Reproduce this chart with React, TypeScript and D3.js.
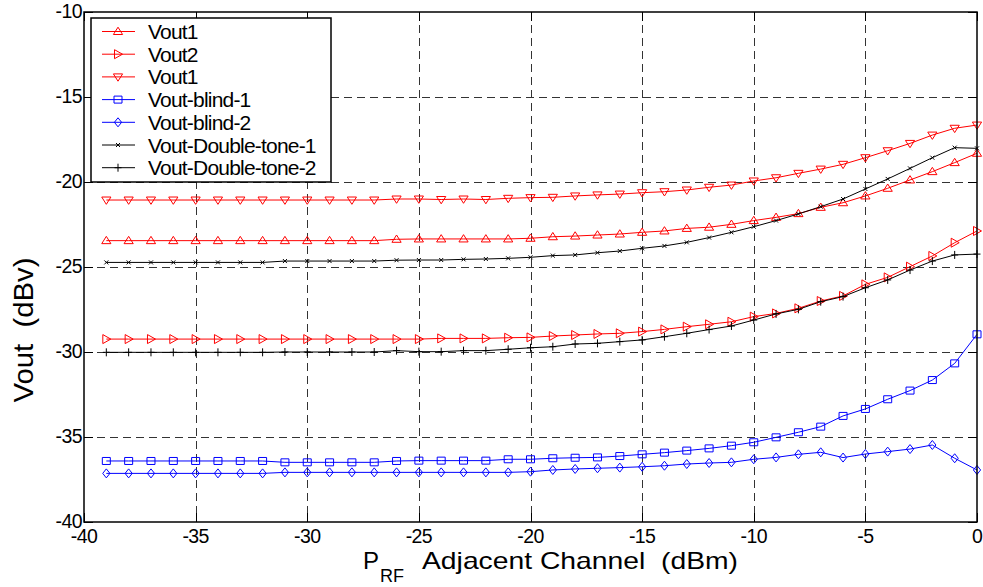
import React from "react";
import * as d3 from "d3";

const xValues = [-39, -38, -37, -36, -35, -34, -33, -32, -31, -30, -29, -28, -27, -26, -25, -24, -23, -22, -21, -20, -19, -18, -17, -16, -15, -14, -13, -12, -11, -10, -9, -8, -7, -6, -5, -4, -3, -2, -1, 0];

const vout1Up = [-23.45, -23.45, -23.45, -23.45, -23.45, -23.45, -23.45, -23.45, -23.45, -23.45, -23.45, -23.45, -23.45, -23.37, -23.35, -23.35, -23.35, -23.35, -23.35, -23.31, -23.22, -23.18, -23.12, -23.06, -22.96, -22.88, -22.73, -22.66, -22.49, -22.27, -22.08, -21.86, -21.49, -21.22, -20.82, -20.37, -19.88, -19.39, -18.86, -18.31];
const vout2 = [-29.24, -29.24, -29.24, -29.24, -29.24, -29.24, -29.24, -29.24, -29.24, -29.24, -29.24, -29.24, -29.24, -29.24, -29.24, -29.2, -29.2, -29.2, -29.16, -29.14, -29.06, -29.0, -28.94, -28.9, -28.8, -28.67, -28.51, -28.37, -28.22, -27.92, -27.73, -27.43, -27.0, -26.7, -26.02, -25.61, -24.98, -24.35, -23.57, -22.88];
const vout1Down = [-21.06, -21.06, -21.06, -21.06, -21.06, -21.06, -21.06, -21.06, -21.06, -21.06, -21.06, -21.06, -21.06, -21.0, -21.0, -21.03, -21.0, -21.03, -20.96, -20.92, -20.9, -20.82, -20.76, -20.71, -20.63, -20.57, -20.47, -20.31, -20.18, -19.94, -19.75, -19.49, -19.24, -18.96, -18.57, -18.16, -17.73, -17.24, -16.84, -16.65];
const blind1 = [-36.41, -36.41, -36.41, -36.41, -36.41, -36.41, -36.41, -36.41, -36.49, -36.49, -36.49, -36.49, -36.49, -36.41, -36.39, -36.39, -36.39, -36.39, -36.31, -36.31, -36.25, -36.22, -36.2, -36.12, -36.02, -35.92, -35.8, -35.67, -35.51, -35.31, -35.02, -34.72, -34.39, -33.76, -33.35, -32.78, -32.27, -31.65, -30.67, -28.96];
const blind2 = [-37.14, -37.14, -37.14, -37.14, -37.14, -37.14, -37.14, -37.14, -37.08, -37.08, -37.08, -37.08, -37.08, -37.08, -37.08, -37.08, -37.08, -37.08, -37.08, -37.04, -36.94, -36.88, -36.84, -36.8, -36.75, -36.69, -36.59, -36.53, -36.49, -36.31, -36.2, -36.02, -35.9, -36.21, -36.0, -35.86, -35.71, -35.47, -36.25, -36.94];
const doubleTone1 = [-24.73, -24.73, -24.73, -24.73, -24.73, -24.73, -24.73, -24.73, -24.65, -24.65, -24.65, -24.65, -24.65, -24.6, -24.59, -24.59, -24.55, -24.53, -24.49, -24.43, -24.33, -24.29, -24.16, -24.06, -23.9, -23.76, -23.55, -23.27, -22.96, -22.63, -22.27, -21.88, -21.45, -21.0, -20.41, -19.82, -19.2, -18.57, -17.98, -18.02];
const doubleTone2 = [-30.02, -30.02, -30.02, -30.02, -30.02, -30.02, -30.02, -30.02, -30.0, -30.0, -30.0, -30.0, -30.0, -29.92, -29.98, -29.98, -29.92, -29.92, -29.84, -29.75, -29.69, -29.53, -29.49, -29.39, -29.29, -29.1, -28.9, -28.68, -28.47, -28.12, -27.76, -27.49, -27.04, -26.74, -26.22, -25.76, -25.18, -24.65, -24.29, -24.24];

const seriesNames = ["Vout1", "Vout2", "Vout1", "Vout-blind-1", "Vout-blind-2", "Vout-Double-tone-1", "Vout-Double-tone-2"];
const seriesValues = [vout1Up, vout2, vout1Down, blind1, blind2, doubleTone1, doubleTone2];
const seriesColors = ["#ff0000", "#ff0000", "#ff0000", "#0000ff", "#0000ff", "#000000", "#000000"];
const seriesMarkers = ["triUp", "triRight", "triDown", "square", "diamond", "x", "plus"];

const xTicks = [-40, -35, -30, -25, -20, -15, -10, -5, 0];
const yTicks = [-10, -15, -20, -25, -30, -35, -40];

const FONT = "'Liberation Sans', Arial, Helvetica, sans-serif";

function markerPath(type: string): string {
  switch (type) {
    case "triUp":
      return "M0,-4.3L4.6,3L-4.6,3Z";
    case "triDown":
      return "M0,4.3L4.6,-3L-4.6,-3Z";
    case "triRight":
      return "M4.5,0L-3.5,-4.5L-3.5,4.5Z";
    case "square":
      return "M-4,-3.5L4,-3.5L4,3.5L-4,3.5Z";
    case "diamond":
      return "M0,-4.5L3.6,0L0,4.5L-3.6,0Z";
    case "x":
      return "M-2,-2L2,2M-2,2L2,-2";
    case "plus":
      return "M-3.5,0L3.5,0M0,-4L0,4";
    default:
      return "";
  }
}

export default function App() {
  const W = 983;
  const H = 587;
  const left = 84;
  const right = 977;
  const top = 12;
  const bottom = 522;

  const x = d3.scaleLinear().domain([-40, 0]).range([left, right]);
  const y = d3.scaleLinear().domain([-40, -10]).range([bottom, top]);

  const line = d3
    .line<number>()
    .x((_, i) => x(xValues[i]))
    .y((d) => y(d));

  const legX = 91;
  const legY = 18;
  const legW = 240;
  const legH = 164;

  return (
    <svg
      width={W}
      height={H}
      style={{ position: "absolute", left: 0, top: 0, background: "#fff" }}
      fontFamily={FONT}
    >
      <rect x={0} y={0} width={W} height={H} fill="#fff" />
      {/* grid */}
      <g stroke="#333" strokeWidth={1} strokeDasharray="8,5">
        {xTicks.slice(1, -1).map((t) => (
          <line key={"gx" + t} x1={Math.round(x(t)) + 0.5} x2={Math.round(x(t)) + 0.5} y1={top} y2={bottom} />
        ))}
        {yTicks.slice(1, -1).map((t) => (
          <line key={"gy" + t} x1={left} x2={right} y1={Math.round(y(t)) + 0.5} y2={Math.round(y(t)) + 0.5} />
        ))}
      </g>
      {/* ticks */}
      <g stroke="#000" strokeWidth={1}>
        {xTicks.map((t) => (
          <g key={"tx" + t}>
            <line x1={Math.round(x(t)) + 0.5} x2={Math.round(x(t)) + 0.5} y1={bottom} y2={bottom - 9} />
            <line x1={Math.round(x(t)) + 0.5} x2={Math.round(x(t)) + 0.5} y1={top} y2={top + 9} />
          </g>
        ))}
        {yTicks.map((t) => (
          <g key={"ty" + t}>
            <line x1={left} x2={left + 9} y1={Math.round(y(t)) + 0.5} y2={Math.round(y(t)) + 0.5} />
            <line x1={right} x2={right - 9} y1={Math.round(y(t)) + 0.5} y2={Math.round(y(t)) + 0.5} />
          </g>
        ))}
      </g>
      {/* series */}
      {seriesValues.map((vals, si) => (
        <g key={"s" + si}>
          <path d={line(vals) || ""} fill="none" stroke={seriesColors[si]} strokeWidth={1} />
          {vals.map((v, i) => (
            <path
              key={i}
              d={markerPath(seriesMarkers[si])}
              transform={`translate(${x(xValues[i])},${y(v)})`}
              fill="none"
              stroke={seriesColors[si]}
              strokeWidth={1}
            />
          ))}
        </g>
      ))}
      {/* axes box */}
      <rect x={left} y={top} width={right - left} height={bottom - top} fill="none" stroke="#000" strokeWidth={1.5} />
      {/* tick labels */}
      <g fontSize={19.5} fill="#000">
        {xTicks.map((t) => (
          <text key={"lx" + t} x={x(t)} y={543} textAnchor="middle" letterSpacing={-0.6}>
            {t}
          </text>
        ))}
        {yTicks.map((t) => (
          <text key={"ly" + t} x={left - 2} y={y(t) + 6} textAnchor="end" letterSpacing={-0.6}>
            {t}
          </text>
        ))}
      </g>
      {/* legend */}
      <rect x={legX} y={legY} width={legW} height={legH} fill="#fff" stroke="#000" strokeWidth={1.5} />
      {seriesNames.map((name, i) => {
        const ly = 31.5 + i * 22.7;
        return (
          <g key={"leg" + i}>
            <line x1={102} x2={135} y1={ly} y2={ly} stroke={seriesColors[i]} strokeWidth={1} />
            <path d={markerPath(seriesMarkers[i])} transform={`translate(118,${ly})`} fill="none" stroke={seriesColors[i]} strokeWidth={1} />
            <text x={148} y={ly + 7.5} fontSize={21} letterSpacing={-0.8} fill="#000">
              {name}
            </text>
          </g>
        );
      })}
      {/* axis titles */}
      <text x={363} y={569} fontSize={24} fill="#000">P</text>
      <text x={380} y={582} fontSize={18} fill="#000">RF</text>
      <text
        x={422}
        y={569}
        fontSize={24}
        fill="#000"
        textLength={316}
        lengthAdjust="spacingAndGlyphs"
        style={{ whiteSpace: "pre" }}
      >
        {"Adjacent Channel  (dBm)"}
      </text>
      <text
        transform="translate(33,330) rotate(-90)"
        textAnchor="middle"
        fontSize={28}
        fill="#000"
        textLength={145}
        lengthAdjust="spacingAndGlyphs"
        style={{ whiteSpace: "pre" }}
      >
        {"Vout  (dBv)"}
      </text>
    </svg>
  );
}
